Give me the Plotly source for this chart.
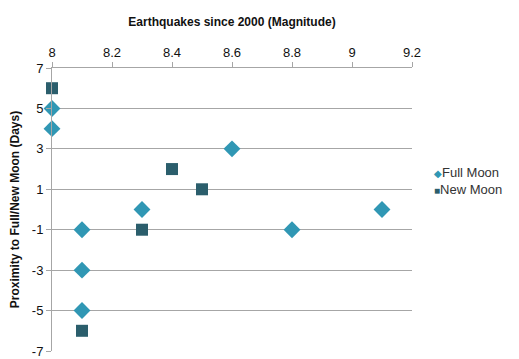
import plotly.graph_objects as go

full_x = [8.0, 8.0, 8.6, 8.3, 8.1, 8.1, 8.1, 8.8, 9.1]
full_y = [5, 4, 3, 0, -1, -3, -5, -1, 0]
new_x = [8.0, 8.4, 8.5, 8.3, 8.1]
new_y = [6, 2, 1, -1, -6]
x_ticks = [8, 8.2, 8.4, 8.6, 8.8, 9, 9.2]
y_ticks = [-7, -5, -3, -1, 1, 3, 5, 7]
series_names = ["Full Moon", "New Moon"]

FONT = "Liberation Sans, Arial, sans-serif"
C_FULL = "#3097B4"
C_NEW = "#2B5E6C"

fig = go.Figure()
fig.add_trace(go.Scatter(x=full_x, y=full_y, mode="markers", name=series_names[0],
                         cliponaxis=False,
                         marker=dict(symbol="diamond", size=13, color=C_FULL)))
fig.add_trace(go.Scatter(x=new_x, y=new_y, mode="markers", name=series_names[1],
                         cliponaxis=False,
                         marker=dict(symbol="square", size=12, color=C_NEW)))

# compact legend drawn as text annotations (keeps margins fixed)
fig.add_annotation(xref="paper", yref="paper", x=1.055, y=0.632, xanchor="left",
                   yanchor="middle", showarrow=False,
                   text=f'<span style="color:{C_FULL};font-size:10px">◆</span>{series_names[0]}',
                   font=dict(size=13, color="#333333"))
fig.add_annotation(xref="paper", yref="paper", x=1.055, y=0.569, xanchor="left",
                   yanchor="middle", showarrow=False,
                   text=f'<span style="color:{C_NEW};font-size:10px">■</span>{series_names[1]}',
                   font=dict(size=13, color="#333333"))

fig.update_layout(
    width=511, height=351,
    margin=dict(l=44, r=107, t=60, b=8),
    paper_bgcolor="white", plot_bgcolor="white",
    font=dict(family=FONT, size=12, color="#222222"),
    showlegend=False,
    xaxis=dict(side="top", range=[8, 9.2], tickvals=x_ticks,
               ticktext=[str(v) for v in x_ticks],
               showgrid=False, zeroline=False, automargin=False,
               showline=True, linecolor="#a6a6a6", linewidth=1,
               ticks="outside", ticklen=5, tickcolor="#a6a6a6",
               tickfont=dict(size=13, color="#111111"),
               title=dict(text="<b>Earthquakes since 2000 (Magnitude)</b>",
                          font=dict(size=12, color="#111111"))),
    yaxis=dict(range=[-7, 7], tickvals=y_ticks,
               ticktext=[str(v) for v in y_ticks],
               showgrid=True, gridcolor="#a6a6a6", gridwidth=1,
               zeroline=False, automargin=False,
               showline=True, linecolor="#a6a6a6", linewidth=1,
               ticks="outside", ticklen=5, tickcolor="#a6a6a6",
               tickfont=dict(size=13, color="#111111"),
               title=dict(text="<b>Proximity to Full/New Moon (Days)</b>",
                          font=dict(size=12, color="#111111"))),
)

fig.write_html("out.html")
